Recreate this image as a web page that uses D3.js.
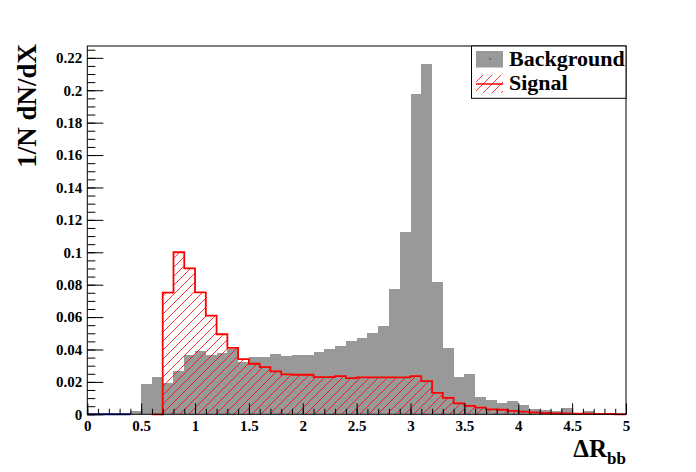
<!DOCTYPE html>
<html><head><meta charset="utf-8">
<script src="https://cdn.jsdelivr.net/npm/d3@7"></script>
<style>
body{margin:0;background:#fff}
svg{display:block}
text{font-family:"Liberation Serif","Times New Roman",serif;font-weight:bold;fill:#000}
</style>
</head><body>
<svg id="c" width="696" height="472"></svg>
<script>
// ---- data ----
const binLow = [0.0,0.1,0.2,0.3,0.4,0.5,0.6,0.7,0.8,0.9,
                1.0,1.1,1.2,1.3,1.4,1.5,1.6,1.7,1.8,1.9,
                2.0,2.1,2.2,2.3,2.4,2.5,2.6,2.7,2.8,2.9,
                3.0,3.1,3.2,3.3,3.4,3.5,3.6,3.7,3.8,3.9,
                4.0,4.1,4.2,4.3,4.4,4.5,4.6,4.7,4.8,4.9];
const binWidth = 0.1;
const backgroundValues = [0,0,0,0,0.002,0.0186,0.0231,0.0192,0.0268,0.0366,
                          0.039,0.0366,0.0378,0.0403,0.0323,0.0354,0.0354,0.0372,0.036,0.0365,
                          0.0366,0.0385,0.0403,0.0422,0.0451,0.0471,0.0501,0.0545,0.0773,0.1124,
                          0.1977,0.2162,0.0817,0.041,0.0232,0.0249,0.0109,0.0088,0.0072,0.0082,
                          0.006,0.0033,0.0028,0.002,0.0039,0.0008,0.002,0.0008,0.0005,0.0006];
const signalValues = [0,0,0,0,0,0,0,0.0751,0.1,0.0901,
                      0.0753,0.0609,0.0494,0.041,0.034,0.0312,0.0291,0.0265,0.0246,0.0244,
                      0.0244,0.023,0.023,0.0235,0.0223,0.0228,0.0228,0.0228,0.0228,0.0228,
                      0.0235,0.0205,0.0132,0.0101,0.0068,0.0052,0.0041,0.0031,0.0028,0.0021,
                      0.0016,0.0012,0.0008,0.0006,0.0005,0.0004,0.0004,0.0003,0.0002,0];
const xTicks = [0,0.5,1,1.5,2,2.5,3,3.5,4,4.5,5];
const xTickLabels = ["0","0.5","1","1.5","2","2.5","3","3.5","4","4.5","5"];
const yTicks = [0,0.02,0.04,0.06,0.08,0.1,0.12,0.14,0.16,0.18,0.2,0.22];
const yTickLabels = ["0","0.02","0.04","0.06","0.08","0.1","0.12","0.14","0.16","0.18","0.2","0.22"];
const legendLabels = ["Background","Signal"];
const xDomain = [0,5];
const yDomain = [0,0.2273];

// ---- layout ----
const L = 87.3, R = 626, T = 46, B = 414.3;
const svg = d3.select("#c");
const x = d3.scaleLinear().domain(xDomain).range([L,R]);
const y = d3.scaleLinear().domain(yDomain).range([B,T]);

const defs = svg.append("defs");
function hatch(id){
  const s = 9;
  const p = defs.append("pattern").attr("id",id).attr("patternUnits","userSpaceOnUse")
    .attr("width",s).attr("height",s);
  p.append("path").attr("d",`M-2,2 L2,-2 M0,${s} L${s},0 M${s-2},${s+2} L${s+2},${s-2}`)
    .attr("stroke","#ff0000").attr("stroke-width",0.8).attr("fill","none");
}
hatch("h1");

// background histogram
const bins = binLow.map((b,i)=>({x0:b,x1:b+binWidth,bg:backgroundValues[i],sg:signalValues[i]}));
svg.append("g").selectAll("rect").data(bins.filter(d=>d.bg>0)).join("rect")
  .attr("x",d=>x(d.x0)).attr("width",d=>x(d.x1)-x(d.x0))
  .attr("y",d=>y(d.bg)).attr("height",d=>y(0)-y(d.bg))
  .attr("fill","#999999").attr("shape-rendering","crispEdges");

// signal histogram
const firstNZ = signalValues.findIndex(v=>v>0);
const sigPts = bins.slice(firstNZ-1).map(d=>({x:d.x0,v:d.sg}));
sigPts.push({x:xDomain[1],v:0});
const area = d3.area().curve(d3.curveStepAfter).x(d=>x(d.x)).y0(y(0)).y1(d=>y(d.v));
const line = d3.line().curve(d3.curveStepAfter).x(d=>x(d.x)).y(d=>y(d.v));
svg.append("path").attr("d",area(sigPts)).attr("fill","url(#h1)");
svg.append("path").attr("d",line(sigPts)).attr("fill","none").attr("stroke","#ff0000").attr("stroke-width",1.8);

// blue baseline segment of empty bins
svg.append("path").attr("d",line([{x:0,v:0},{x:0.4,v:0}])).attr("stroke","#000099").attr("stroke-width",2).attr("fill","none");

// axes
const xMinor = d3.range(0,51).map(i=>i/10);
const yMinor = d3.range(0,46).map(i=>i*0.005);
const gx = svg.append("g").attr("transform",`translate(0,${B})`);
gx.call(d3.axisBottom(x).tickValues(xMinor).tickSize(-5.5).tickFormat(""));
const gxM = svg.append("g").attr("transform",`translate(0,${B})`);
gxM.call(d3.axisBottom(x).tickValues(xTicks).tickSize(-11).tickPadding(5).tickFormat((d,i)=>xTickLabels[i]));
const gy = svg.append("g").attr("transform",`translate(${L},0)`);
gy.call(d3.axisLeft(y).tickValues(yMinor).tickSize(-8).tickFormat(""));
const gyM = svg.append("g").attr("transform",`translate(${L},0)`);
gyM.call(d3.axisLeft(y).tickValues(yTicks).tickSize(-16).tickPadding(5).tickFormat((d,i)=>yTickLabels[i]));
svg.selectAll(".domain").remove();
svg.selectAll(".tick line").attr("stroke","#000").attr("stroke-width",1);
svg.selectAll(".tick text").style("font-family",'"Liberation Serif",serif').style("font-weight","bold").style("font-size","15px").attr("fill","#000");
gxM.selectAll(".tick text").attr("dy","0.75em");

// frame
svg.append("rect").attr("x",L).attr("y",T).attr("width",R-L).attr("height",B-T)
  .attr("fill","none").attr("stroke","#000").attr("stroke-width",1);

// axis titles
svg.append("text").attr("transform","translate(36,44) rotate(-90)").attr("text-anchor","end")
  .style("font-size","27px").text("1/N dN/dX");
const xt = svg.append("text").attr("x",626).attr("y",457).attr("text-anchor","end").style("font-size","25px");
xt.append("tspan").text("\u0394R");
xt.append("tspan").attr("dy",7).style("font-size","17px").text("bb");

// legend
const lg = svg.append("g");
lg.append("rect").attr("x",471.5).attr("y",T).attr("width",R-471.5).attr("height",52.3)
  .attr("fill","#fff").attr("stroke","#000").attr("stroke-width",1);
lg.append("rect").attr("x",476).attr("y",51).attr("width",27).attr("height",16.5).attr("fill","#999999");
lg.append("rect").attr("x",489.5).attr("y",58.5).attr("width",1).attr("height",1).attr("fill","#000");
lg.append("rect").attr("x",476).attr("y",75).attr("width",27).attr("height",18).attr("fill","url(#h1)");
lg.append("line").attr("x1",476).attr("x2",503).attr("y1",84).attr("y2",84).attr("stroke","#ff0000").attr("stroke-width",1.5);
lg.append("text").attr("x",509).attr("y",65.5).style("font-size","22px").text(legendLabels[0]);
lg.append("text").attr("x",509).attr("y",90).style("font-size","22px").text(legendLabels[1]);
</script>
</body></html>
